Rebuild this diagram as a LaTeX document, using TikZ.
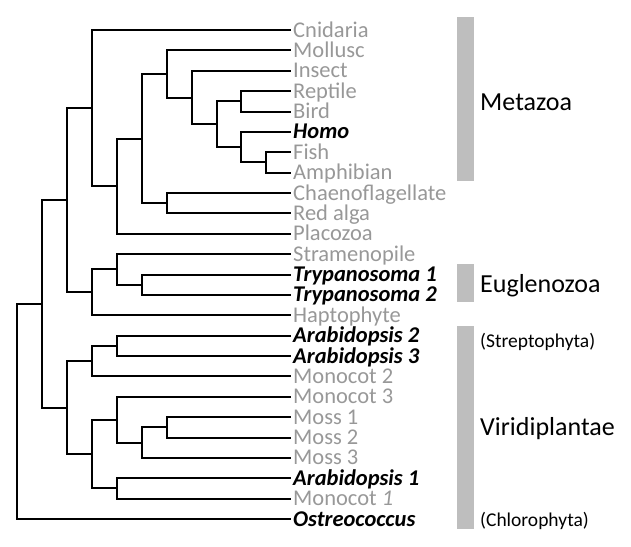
\documentclass[tikz,border=0pt]{standalone}
\usepackage{fontspec}
\setmainfont{Carlito}
\definecolor{taxgray}{HTML}{989898}
\definecolor{bargray}{HTML}{BEBEBE}
\tikzset{
  branch/.style={line width=2pt, line cap=rect, line join=miter},
  leaf/.style={anchor=west, inner xsep=3pt, inner ysep=0pt, text height=14pt, text depth=0pt, font=\fontsize{22.5}{22.5}\selectfont},
  other/.style={leaf, text=taxgray},
  key/.style={leaf, font=\fontsize{22.5}{22.5}\selectfont\bfseries\itshape},
  clade/.style={anchor=base west, inner sep=0pt, font=\fontsize{26}{26}\selectfont},
  subclade/.style={anchor=base west, inner sep=0pt, font=\fontsize{19.5}{19.5}\selectfont},
  cladebar/.style={fill=bargray, draw=none}
}

\begin{document}
\begin{tikzpicture}[x=1pt,y=-1pt]
  \useasboundingbox (0,0) rectangle (631,546);
  % taxa
  \foreach \id/\txt/\sty [count=\i from 0] in {
      cni/Cnidaria/other, mol/Mollusc/other, ins/Insect/other, rep/Reptile/other,
      bir/Bird/other, hom/Homo/key, fis/Fish/other, amp/Amphibian/other,
      cha/Chaenoflagellate/other, red/Red alga/other, pla/Placozoa/other,
      str/Stramenopile/other, tra/Trypanosoma 1/key, trb/Trypanosoma 2/key,
      hap/Haptophyte/other, arb/Arabidopsis 2/key, arc/Arabidopsis 3/key,
      mob/Monocot 2/other, moc/Monocot 3/other, msa/Moss 1/other,
      msb/Moss 2/other, msc/Moss 3/other, ara/Arabidopsis 1/key,
      moa/{Monocot \textit{1}}/other, ost/Ostreococcus/key}
    \node[\sty] (\id) at (290,{30+20.375*\i}) {\txt};

  % inner nodes
  \coordinate (fa) at (266,162.4);
  \coordinate (ho) at (241,147.2);
  \coordinate (rb) at (241,101.3);
  \coordinate (ve) at (217,124.2);
  \coordinate (in) at (192,97.5);
  \coordinate (mo) at (167,73.9);
  \coordinate (cr) at (167,203.2);
  \coordinate (an) at (142,138.6);
  \coordinate (pl) at (117,186.2);
  \coordinate (me) at (92,108.1);
  \coordinate (tr) at (142,284.7);
  \coordinate (st) at (117,269.4);
  \coordinate (ha) at (92,292.3);
  \coordinate (up) at (67,200.2);
  \coordinate (ar) at (117,345.8);
  \coordinate (mt) at (92,361.1);
  \coordinate (ms) at (167,427.3);
  \coordinate (mm) at (142,442.6);
  \coordinate (mc) at (117,419.7);
  \coordinate (ao) at (117,488.4);
  \coordinate (lo) at (92,454.0);
  \coordinate (vi) at (67,407.6);
  \coordinate (ab) at (42,303.9);
  \coordinate (root) at (17,411.5);

  % metazoa
  \draw[branch] (fa) |- (fis.west) (fa) |- (amp.west);
  \draw[branch] (ho) |- (hom.west) (ho) |- (fa);
  \draw[branch] (rb) |- (rep.west) (rb) |- (bir.west);
  \draw[branch] (ve) |- (rb) (ve) |- (ho);
  \draw[branch] (in) |- (ins.west) (in) |- (ve);
  \draw[branch] (mo) |- (mol.west) (mo) |- (in);
  \draw[branch] (cr) |- (cha.west) (cr) |- (red.west);
  \draw[branch] (an) |- (mo) (an) |- (cr);
  \draw[branch] (pl) |- (an) (pl) |- (pla.west);
  \draw[branch] (me) |- (cni.west) (me) |- (pl);
  % euglenozoa
  \draw[branch] (tr) |- (tra.west) (tr) |- (trb.west);
  \draw[branch] (st) |- (str.west) (st) |- (tr);
  \draw[branch] (ha) |- (st) (ha) |- (hap.west);
  \draw[branch] (up) |- (me) (up) |- (ha);
  % viridiplantae
  \draw[branch] (ar) |- (arb.west) (ar) |- (arc.west);
  \draw[branch] (mt) |- (ar) (mt) |- (mob.west);
  \draw[branch] (ms) |- (msa.west) (ms) |- (msb.west);
  \draw[branch] (mm) |- (ms) (mm) |- (msc.west);
  \draw[branch] (mc) |- (moc.west) (mc) |- (mm);
  \draw[branch] (ao) |- (ara.west) (ao) |- (moa.west);
  \draw[branch] (lo) |- (mc) (lo) |- (ao);
  \draw[branch] (vi) |- (mt) (vi) |- (lo);
  \draw[branch] (ab) |- (up) (ab) |- (vi);
  \draw[branch] (root) |- (ab) (root) |- (ost.west);

  % clades
  \fill[cladebar] (456.7,16.7) rectangle (474,180.7);
  \fill[cladebar] (456.7,264) rectangle (474,302);
  \fill[cladebar] (456.7,326) rectangle (474,529);
  \node[clade] (metazoa) at (480,110) {Metazoa};
  \node[clade] (eugleno) at (480,292.7) {Euglenozoa};
  \node[clade] (viridi) at (480,435.7) {Viridiplantae};
  \node[subclade] (strepto) at (480,347) {(Streptophyta)};
  \node[subclade] (chloro) at (480,526) {(Chlorophyta)};
\end{tikzpicture}
\end{document}
